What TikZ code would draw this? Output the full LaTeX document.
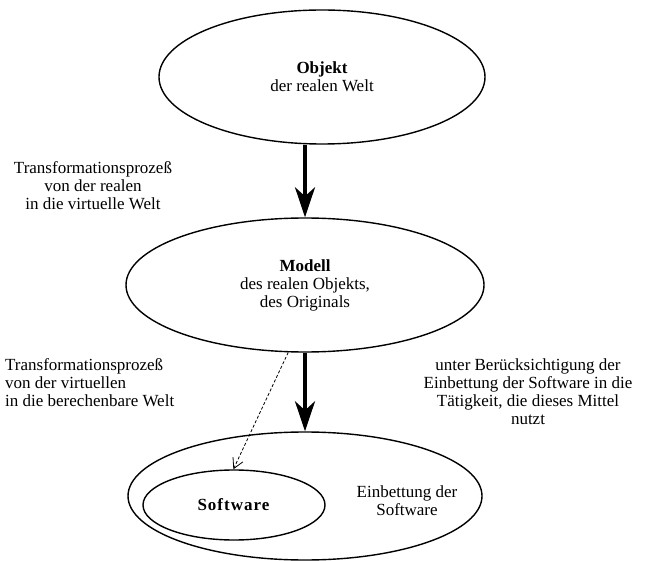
\documentclass[tikz,border=0pt]{standalone}
\usepackage{fontspec}
\setmainfont{Liberation Serif}
\usetikzlibrary{shapes.geometric,arrows.meta}
\begin{document}
\begin{tikzpicture}[x=1pt,y=-1pt,
  every node/.style={font=\fontsize{17}{18}\selectfont},
  ell/.style={draw,ellipse,line width=1.4pt,inner sep=0pt,align=center},
  lbl/.style={align=center,inner sep=0pt},
  bigarrow/.style={line width=3.8pt,-{Stealth[length=30pt,width=20pt,inset=9pt]}},
  dasharrow/.style={line width=0.8pt,dash pattern=on 3pt off 2pt,-{Straight Barb[length=10pt,width=11pt]}}]
\useasboundingbox (0,0) rectangle (648,561);
\node[ell,minimum width=326pt,minimum height=134pt] (obj) at (322,77)
  {\textbf{Objekt}\\der realen Welt};
\node[ell,minimum width=358pt,minimum height=134pt] (mod) at (305,285)
  {\textbf{Modell}\\des realen Objekts,\\des Originals};
\node[ell,minimum width=354pt,minimum height=128pt] (emb) at (305,496) {};
\node[ell,minimum width=182pt,minimum height=70pt] (soft) at (234,505)
  {\addfontfeatures{LetterSpace=6}\textbf{Software}};
\node[lbl] (embtxt) at (407,501) {Einbettung der\\Software};
\node[lbl] (t1) at (93,186) {Transformationsprozeß\\von der realen\\in die virtuelle Welt};
\node[lbl,align=left,anchor=west] (t2) at (5,383) {Transformationsprozeß\\von der virtuellen\\in die berechenbare Welt};
\node[lbl] (t3) at (528,392) {unter Berücksichtigung der\\Einbettung der Software in die\\Tätigkeit, die dieses Mittel\\nutzt};
\draw[bigarrow] (obj.south -| mod.north) -- (mod.north);
\draw[bigarrow] (mod.south) -- (emb.north);
\draw[dasharrow] (mod.256) -- (soft.91);
\end{tikzpicture}
\end{document}
